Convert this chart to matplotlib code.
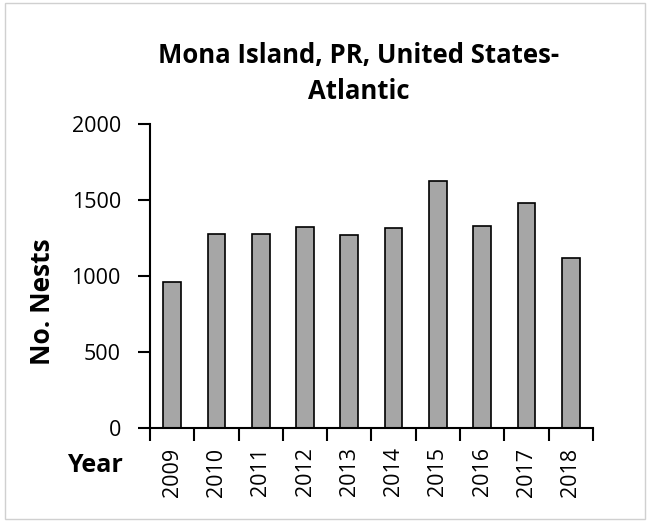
import matplotlib
matplotlib.use("Agg")
import matplotlib.pyplot as plt
import numpy as np

years = ["2009", "2010", "2011", "2012", "2013", "2014", "2015", "2016", "2017", "2018"]
nests = [960, 1278, 1278, 1324, 1272, 1316, 1627, 1329, 1482, 1120]

plt.rcParams["font.family"] = ["Open Sans", "DejaVu Sans"]

fig = plt.figure(figsize=(6.48, 5.21), dpi=100)
ax = fig.add_axes([0.2315, 0.1785, 0.6835, 0.5835])

x = np.arange(len(years))
ax.bar(x, nests, width=0.4, color="#a6a6a6", edgecolor="black", linewidth=1.2)

ax.set_xlim(-0.5, len(years) - 0.5)
ax.set_ylim(0, 2000)
ax.set_yticks([0, 500, 1000, 1500, 2000])
ax.tick_params(axis="y", labelsize=15.5, direction="out", length=9, width=1.5, pad=12)

ax.set_xticks(x)
ax.set_xticklabels(years, rotation=90, fontsize=15.5)
ax.tick_params(axis="x", length=0, pad=14)
ax.set_xticks(np.arange(-0.5, len(years)), minor=True)
ax.tick_params(axis="x", which="minor", direction="out", length=9, width=1.5)

for s in ["top", "right"]:
    ax.spines[s].set_visible(False)
for s in ["left", "bottom"]:
    ax.spines[s].set_linewidth(1.5)

fig.text(0.553, 0.859, "Mona Island, PR, United States-\nAtlantic", ha="center", va="center",
         fontsize=18.5, fontweight="bold", linespacing=1.4)
fig.text(0.066, 0.42, "No. Nests", rotation=90, ha="center", va="center",
         fontsize=19, fontweight="bold")
fig.text(0.19, 0.107, "Year", ha="right", va="center", fontsize=18, fontweight="bold")

fig.patches.append(plt.Rectangle((0.008, 0.004), 0.988, 0.99, transform=fig.transFigure,
                                 fill=False, edgecolor="#d0d0d0", linewidth=1))

fig.savefig("out.png", dpi=100)
